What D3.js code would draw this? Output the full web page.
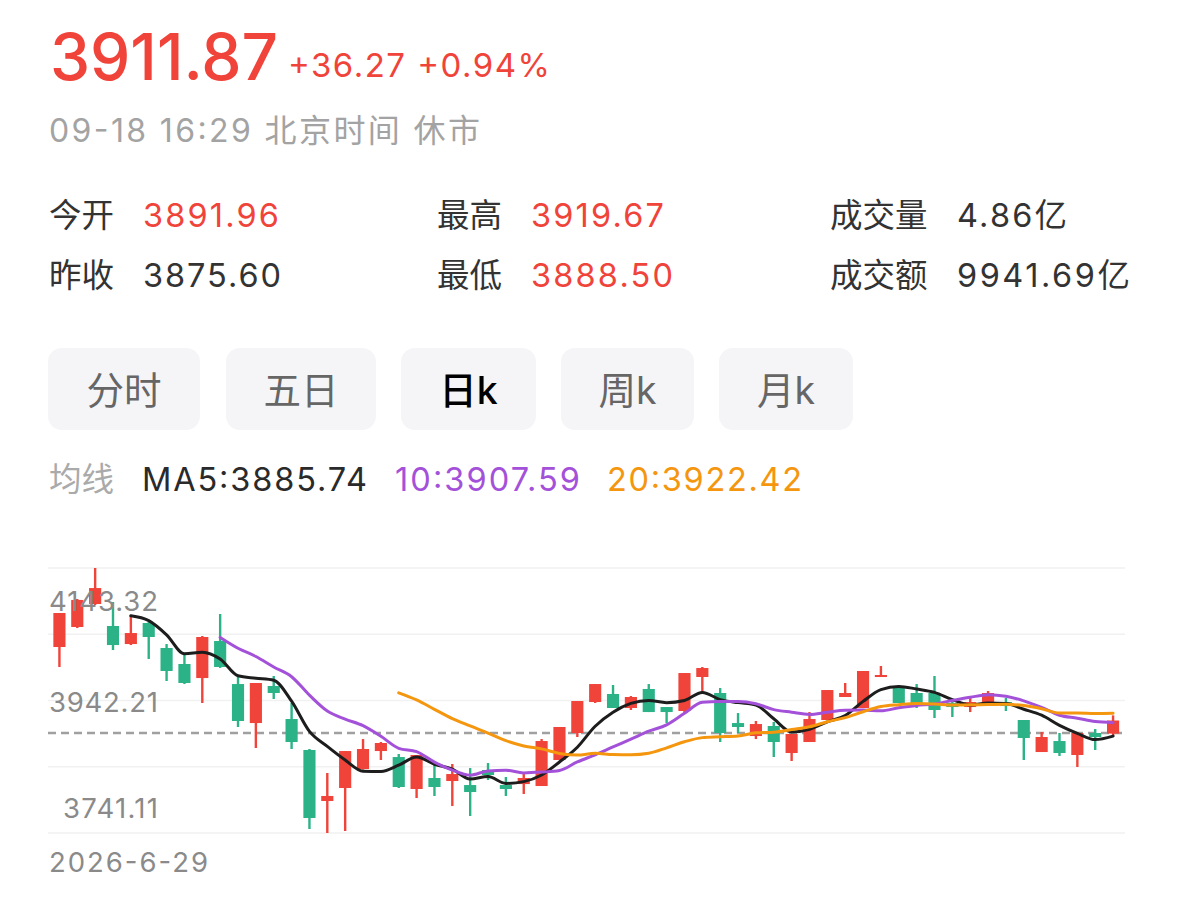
<!DOCTYPE html>
<html><head><meta charset="utf-8">
<script src="https://cdn.jsdelivr.net/npm/d3@7"></script>
<style>
body{margin:0;background:#fff}
svg text{font-family:Inter,"Noto Sans CJK SC",sans-serif}
</style></head>
<body><svg id="c" width="1179" height="899"></svg>
<script>
// ---- data ----
const openV = [4023.4,4053.8,4088.7,4055.3,4027.9,4059.8,4021.9,3997.6,3976.3,4032.5,
3967.2,3908.0,3964.2,3914.1,3867.1,3789.7,3809.4,3838.2,3865.5,3856.4,
3807.9,3824.6,3820.0,3813.9,3836.7,3813.9,3815.4,3812.4,3851.9,3892.9,
3939.9,3952.1,3930.8,3959.7,3932.3,3926.3,3977.9,3953.6,3908.0,3888.3,
3903.5,3862.5,3879.2,3912.6,3947.5,3930.8,3977.9,3961.2,3953.6,3953.6,
3938.4,3932.3,3939.9,3939.9,3912.6,3864.0,3880.7,3859.5,3892.9,3891.96];
const closeV = [4075.0,4094.8,4112.9,4026.4,4044.6,4038.6,3987.0,3968.8,4038.6,3993.1,
3911.1,3968.8,3953.6,3879.2,3763.9,3797.3,3865.5,3868.6,3877.7,3810.9,
3859.5,3810.9,3830.6,3803.3,3829.1,3807.9,3824.6,3880.7,3902.0,3941.4,
3967.2,3930.8,3947.5,3924.7,3924.7,3983.9,3991.5,3892.9,3902.0,3906.5,
3879.2,3891.4,3914.1,3958.1,3953.6,3987.0,3980.9,3938.4,3938.4,3927.8,
3932.3,3939.9,3953.6,3933.8,3885.3,3886.8,3862.5,3892.9,3886.8,3911.87];
const highV = [4075.0,4096.3,4143.32,4091.7,4072.0,4061.3,4027.9,4012.8,4040.1,4073.5,
3979.4,3968.8,3979.4,3938.4,3868.6,3832.2,3865.5,3883.7,3879.2,3861.0,
3859.5,3844.3,3845.8,3839.7,3847.3,3826.1,3832.2,3883.7,3902.0,3941.4,
3967.2,3965.7,3949.0,3967.2,3932.3,3983.9,3993.1,3961.2,3923.2,3911.1,
3909.6,3891.4,3924.7,3958.1,3968.8,3987.0,3994.6,3964.2,3967.2,3979.4,
3943.0,3949.0,3956.6,3946.0,3912.6,3894.4,3892.9,3894.4,3898.9,3919.67];
const lowV = [3993.1,4052.2,4087.2,4018.8,4026.4,4005.2,3971.8,3967.2,3938.4,3991.6,
3902.0,3870.1,3944.5,3868.6,3747.2,3741.11,3744.1,3837.2,3851.9,3809.4,
3794.2,3797.3,3782.1,3766.9,3821.5,3797.3,3800.3,3812.4,3851.9,3886.8,
3938.4,3930.8,3927.8,3924.7,3908.0,3923.2,3955.1,3879.2,3892.9,3883.7,
3856.4,3850.4,3879.2,3912.6,3947.5,3930.8,3977.9,3938.4,3930.8,3915.6,
3917.1,3924.7,3939.9,3926.3,3851.9,3864.0,3858.0,3841.3,3867.1,3888.50];
const maPeriods = [5, 10, 20];
const yTickLabels = ["4143.32", "3942.21", "3741.11"];
const gridValues = [4143.32, 4042.77, 3942.21, 3841.66, 3741.11];
const refLine = 3893.0;
const startDate = "2026-6-29";
const tabs = ["分时", "五日", "日k", "周k", "月k"];

// ---- styles ----
const RED = "#F0433A", GREEN = "#2BB387";
const MA_COLORS = ["#1d1d1d", "#A451DA", "#F5960F"];

const svg = d3.select("#c");
function txt(xp, yp, size, fill, s, len, anchor) {
  const t = svg.append("text").attr("x", xp).attr("y", yp).attr("font-size", size)
    .attr("fill", fill).text(s);
  if (len) t.attr("textLength", len).attr("lengthAdjust", "spacing");
  if (anchor) t.attr("text-anchor", anchor);
  return t;
}

// header
txt(50, 80, 64, RED, "3911.87", 228).attr("font-weight", 500);
txt(288, 77, 33, RED, "+36.27 +0.94%", 262);
txt(49, 142, 32, "#a3a3a3", "09-18 16:29 北京时间 休市", 431);

const stats = [
  {x:49, y:227, k:"今开", vx:143, v:"3891.96", c:RED, w:136},
  {x:437, y:227, k:"最高", vx:531, v:"3919.67", c:RED, w:133},
  {x:830, y:227, k:"成交量", vx:957, v:"4.86亿", c:"#333", w:110},
  {x:49, y:287, k:"昨收", vx:143, v:"3875.60", c:"#333", w:138},
  {x:437, y:287, k:"最低", vx:531, v:"3888.50", c:RED, w:142},
  {x:830, y:287, k:"成交额", vx:957, v:"9941.69亿", c:"#333", w:173}
];
stats.forEach(s => {
  txt(s.x, s.y, 32.5, "#333", s.k);
  txt(s.vx, s.y, 32.5, s.c, s.v, s.w);
});

// tabs
const tabBoxes = [[48,200],[226,376],[401,536],[561,694],[719,853]];
tabs.forEach((t, i) => {
  const [a, b] = tabBoxes[i];
  svg.append("rect").attr("x", a).attr("y", 348).attr("width", b - a).attr("height", 82)
    .attr("rx", 14).attr("fill", "#f5f5f7");
  txt((a + b) / 2, 404, 37.5, i === 2 ? "#000" : "#666", t, null, "middle")
    .attr("font-weight", i === 2 ? 500 : 400);
});

// MA legend
txt(49, 491, 32.5, "#aaa", "均线");
txt(142, 491, 32.5, "#2a2a2a", "MA5:3885.74", 225);
txt(395, 491, 32.5, "#A451DA", "10:3907.59", 185);
txt(607, 491, 32.5, "#F5960F", "20:3922.42", 195);

// chart
const L = 48, R = 1125, T = 568, B = 833;
const idx = d3.range(openV.length);
const x = d3.scaleBand().domain(idx).range([50.5, 1122]).paddingInner(0.32).paddingOuter(0.16);
const y = d3.scaleLinear().domain([3741.11, 4143.32]).range([B, T]);
const cx = i => x(i) + x.bandwidth() / 2;

const g = svg.append("g");
g.selectAll("line.grid").data(gridValues).join("line").attr("class", "grid")
  .attr("x1", L).attr("x2", R).attr("y1", d => y(d)).attr("y2", d => y(d))
  .attr("stroke", "#f1f1f1").attr("stroke-width", 1.5);

g.append("line").attr("x1", L).attr("x2", R).attr("y1", y(refLine)).attr("y2", y(refLine))
  .attr("stroke", "#a0a0a0").attr("stroke-width", 2.4).attr("stroke-dasharray", "8,5");

// axis labels
const tickY = [611, 712, 818];
const tickW = [109, 109, 95];
yTickLabels.forEach((t, i) => {
  txt(158, tickY[i], 27.5, "#8a8a8a", t, tickW[i], "end");
});
txt(49, 872, 27.5, "#8a8a8a", startDate, 159);

// candles
const candles = g.selectAll("g.c").data(idx).join("g").attr("class", "c");
candles.append("line")
  .attr("x1", cx).attr("x2", cx)
  .attr("y1", i => y(highV[i])).attr("y2", i => y(lowV[i]))
  .attr("stroke", i => closeV[i] >= openV[i] ? RED : GREEN).attr("stroke-width", 2.4);
candles.append("rect")
  .attr("x", i => x(i)).attr("width", x.bandwidth())
  .attr("y", i => y(Math.max(openV[i], closeV[i])))
  .attr("height", i => Math.max(2, Math.abs(y(openV[i]) - y(closeV[i]))))
  .attr("fill", i => closeV[i] >= openV[i] ? RED : GREEN);

// moving averages
maPeriods.forEach((n, k) => {
  const pts = idx.filter(i => i >= n - 1).map(i => [cx(i), y(d3.mean(closeV.slice(i - n + 1, i + 1)))]);
  g.append("path").attr("d", d3.line().curve(d3.curveMonotoneX)(pts))
    .attr("fill", "none").attr("stroke", MA_COLORS[k]).attr("stroke-width", 3)
    .attr("stroke-linejoin", "round").attr("stroke-linecap", "round");
});
</script></body></html>
